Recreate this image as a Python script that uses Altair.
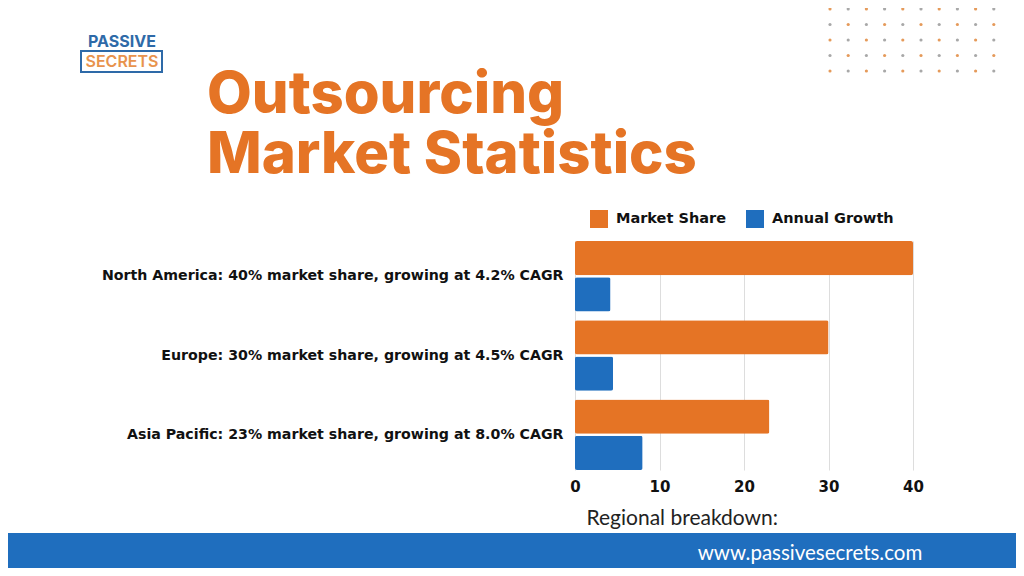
import altair as alt
import pandas as pd

# ---- data ----
labels = [
    "North America: 40% market share, growing at 4.2% CAGR",
    "Europe: 30% market share, growing at 4.5% CAGR",
    "Asia Pacific: 23% market share, growing at 8.0% CAGR",
]
market_share = [40, 30, 23]
annual_growth = [4.2, 4.5, 8.0]
series = ["Market Share", "Annual Growth"]
x_ticks = [0, 10, 20, 30, 40]
title_lines = ["Outsourcing", "Market Statistics"]
axis_title = "Regional breakdown:"
footer_text = "www.passivesecrets.com"
logo_top = "PASSIVE"
logo_bottom = "SECRETS"

ORANGE = "#E57425"
BLUE = "#1F6EBE"
FONT = "Inter"
LFONT = "DejaVu Sans"

rows = []
for lab, ms, ag in zip(labels, market_share, annual_growth):
    rows.append({"label": lab, "series": series[0], "value": ms})
    rows.append({"label": lab, "series": series[1], "value": ag})
df = pd.DataFrame(rows)

# plot origin on the page is (575, 241); decoration is positioned relative to it
PL, PT = 567, 233
W, H = 338, 229
TOTAL_W, TOTAL_H = 1008, 560

bars = alt.Chart(df).mark_bar(cornerRadius=2).encode(
    x=alt.X("value:Q", scale=alt.Scale(domain=[0, 40], nice=False),
            axis=alt.Axis(values=x_ticks, title=axis_title, grid=True, gridColor="#dddddd",
                          domain=False, ticks=False, labelFont=LFONT, labelFontWeight="bold",
                          labelFontSize=15, labelColor="#111111", labelPadding=9,
                          labelFlush=False,
                          titleFont="Lato", titleFontWeight="normal", titleFontSize=21,
                          titleColor="#222222", titleAnchor="start", titleX=11, titleY=37)),
    y=alt.Y("label:N", sort=labels, scale=alt.Scale(paddingInner=0.11, paddingOuter=0),
            axis=alt.Axis(title=None, domain=False, ticks=False, labelFont=LFONT,
                          labelFontWeight="bold", labelFontSize=14.2, labelColor="#111111",
                          labelPadding=12, labelLimit=600)),
    yOffset=alt.YOffset("series:N", sort=series, scale=alt.Scale(paddingInner=0.06)),
    color=alt.Color("series:N", sort=series,
                    scale=alt.Scale(domain=series, range=[ORANGE, BLUE]),
                    legend=alt.Legend(title=None, orient="none", legendX=15, legendY=-31,
                                      direction="horizontal", symbolType="square",
                                      symbolSize=324, symbolStrokeWidth=0, columnPadding=20,
                                      labelFont=LFONT, labelFontWeight="bold", labelFontSize=14.5,
                                      labelColor="#111111", labelOffset=8)),
)

one = alt.Data(values=[{}])

def txt(text, x, y, size, color, weight="bold", align="left", baseline="alphabetic", font=FONT, **kw):
    return alt.Chart(one).mark_text(
        text=text, align=align, baseline=baseline, font=font, fontSize=size,
        fontWeight=weight, color=color, **kw
    ).encode(x=alt.value(x), y=alt.value(y))

title = txt(title_lines, 207 - 575, 113 - 241, 58, ORANGE, weight=800, lineHeight=60)

logo_box = alt.Chart(one).mark_rect(fill="white", stroke="#2E6AA8", strokeWidth=2).encode(
    x=alt.value(81 - 575), x2=alt.value(162 - 575), y=alt.value(51 - 241), y2=alt.value(72 - 241))
logo1 = txt(logo_top, 122 - 575, 42 - 241, 16, "#2E6AA8", align="center", baseline="middle")
logo2 = txt(logo_bottom, 122 - 575, 62 - 241, 16, "#E8934D", weight=600, align="center", baseline="middle")

footer = alt.Chart(one).mark_rect(fill=BLUE).encode(
    x=alt.value(-PL), x2=alt.value(TOTAL_W - PL), y=alt.value(533 - 241), y2=alt.value(TOTAL_H - PT))
footer_t = txt(footer_text, 810 - 575, 554 - 241, 20.5, "white", weight="normal",
               align="center", baseline="middle", font="Lato")

dots_rows = []
for r in range(5):
    for c in range(10):
        dots_rows.append({"px": 830 + c * 18.2 - 575, "py": 9 + r * 15.5 - 241,
                          "k": "o" if (c + r) % 2 == 0 else "g"})
dots = alt.Chart(pd.DataFrame(dots_rows)).mark_circle(size=10, opacity=1).encode(
    x=alt.X("px:Q", scale=None, axis=None),
    y=alt.Y("py:Q", scale=None, axis=None),
    color=alt.Color("k:N", scale=alt.Scale(domain=["o", "g"], range=["#E59A5A", "#A8A8A8"]),
                    legend=None),
)

chart = alt.layer(bars, footer, footer_t, title, logo_box, logo1, logo2, dots).resolve_scale(
    x="independent", y="independent", color="independent"
).properties(
    width=W, height=H,
    padding={"left": PL, "top": PT, "right": TOTAL_W - PL - W, "bottom": TOTAL_H - PT - H},
    autosize=alt.AutoSizeParams(type="none"),
    background="white",
).configure_view(stroke=None)

chart.save("out.html", embed_options={"renderer": "svg", "actions": False})
